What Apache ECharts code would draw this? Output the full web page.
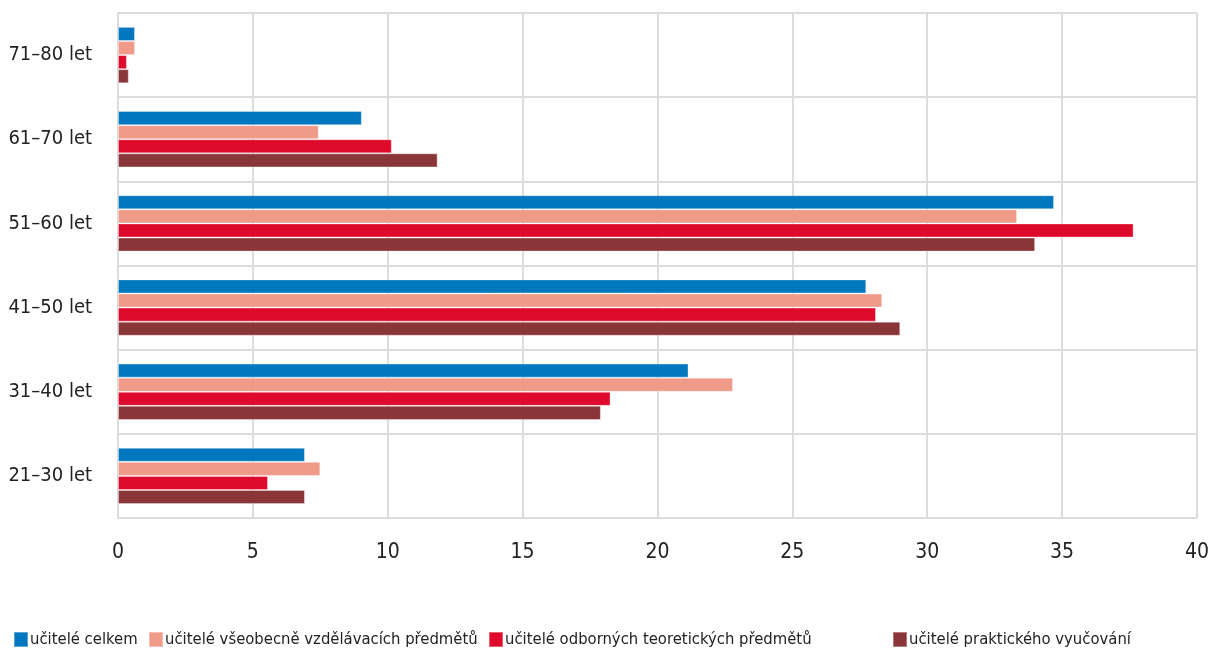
<!DOCTYPE html>
<html><head><meta charset="utf-8">
<script src="https://cdn.jsdelivr.net/npm/echarts@6/dist/echarts.min.js"></script>
<style>html,body{margin:0;padding:0;background:#fff}#c{width:1212px;height:650px}</style>
</head><body><div id="c"></div>
<script>
const categories = ['21–30 let','31–40 let','41–50 let','51–60 let','61–70 let','71–80 let'];
const seriesNames = ['učitelé celkem','učitelé všeobecně vzdělávacích předmětů','učitelé odborných teoretických předmětů','učitelé praktického vyučování'];
const celkem = [6.93, 21.15, 27.74, 34.7, 9.04, 0.63];
const vseobecne = [7.5, 22.8, 28.33, 33.33, 7.44, 0.63];
const odborne = [5.56, 18.26, 28.1, 37.65, 10.15, 0.33];
const prakticke = [6.93, 17.9, 29.0, 34.0, 11.85, 0.4];
const xTicks = {min: 0, max: 40, interval: 5};

const colors = ['#0077BE','#F09A8A','#DD0A2C','#8A3538'];
const font = "'Liberation Sans Narrow','DejaVu Sans Condensed','Roboto Condensed',sans-serif";
const values = [celkem, vseobecne, odborne, prakticke];
const legendLefts = [13, 148, 488, 892];

const chart = echarts.init(document.getElementById('c'));
chart.setOption({
  animation: false,
  color: colors,
  grid: {left: 118, right: 14, top: 13, bottom: 132, containLabel: false},
  legend: seriesNames.map((n, i) => ({
    data: [n], left: legendLefts[i], top: 631, itemWidth: 14, itemHeight: 15, itemGap: 0,
    padding: 0, icon: 'rect',
    textStyle: {fontFamily: font, fontSize: 16.5, color: '#222', padding: [0,0,0,-3]}
  })),
  xAxis: {
    type: 'value', min: xTicks.min, max: xTicks.max, interval: xTicks.interval,
    axisLine: {show: false}, axisTick: {show: false},
    axisLabel: {fontFamily: font, fontSize: 21, color: '#222', margin: 24},
    splitLine: {show: true, lineStyle: {color: '#dcdcdc', width: 2}}
  },
  yAxis: {
    type: 'category', data: categories,
    axisLine: {show: true, lineStyle: {color: '#dcdcdc', width: 2}},
    axisTick: {show: false},
    axisLabel: {fontFamily: font, fontSize: 20, color: '#222', margin: 26},
    splitLine: {show: true, lineStyle: {color: '#dcdcdc', width: 2}}
  },
  series: seriesNames.map((n, i) => ({
    name: n, type: 'bar', data: values[i],
    barGap: '0%', barCategoryGap: '33%',
    itemStyle: {color: colors[i], borderColor: 'rgba(255,255,255,0.35)', borderWidth: 1}
  }))
});
</script></body></html>
